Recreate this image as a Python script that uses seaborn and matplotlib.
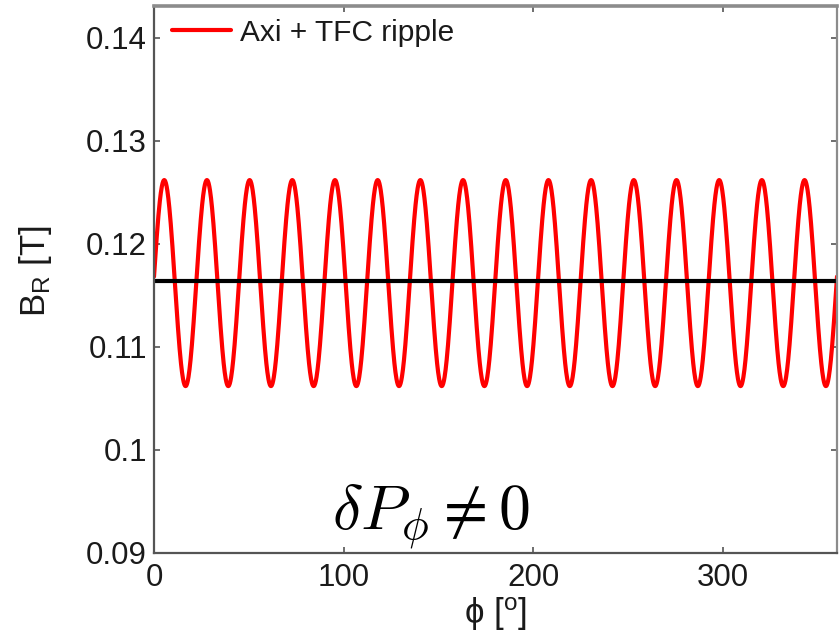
import numpy as np
import pandas as pd
import matplotlib
matplotlib.use("Agg")
import matplotlib.pyplot as plt
import seaborn as sns

# ---- values ----
phi_range = [0, 360]            # toroidal angle range [deg]
n_coils = 16                    # number of ripple periods (TF coils)
phi_first_peak = 5.4            # position of first ripple maximum [deg]
B_peak = 0.1262                 # ripple maxima [T]
B_trough = 0.1062               # ripple minima [T]
B_axi = [0.1164, 0.1164]        # axisymmetric field [T]
yticks = [0.09, 0.1, 0.11, 0.12, 0.13, 0.14]
ytick_labels = ["0.09", "0.1", "0.11", "0.12", "0.13", "0.14"]
xticks = [0, 100, 200, 300]
xtick_labels = ["0", "100", "200", "300"]

# ---- build the curves ----
phi = np.linspace(phi_range[0], phi_range[1], 2001)
B_mid = 0.5 * (B_peak + B_trough)
B_amp = 0.5 * (B_peak - B_trough)
B_ripple = B_mid + B_amp * np.cos(2 * np.pi * n_coils * (phi - phi_first_peak) / 360.0)
df_rip = pd.DataFrame({"phi": phi, "B": B_ripple})
df_axi = pd.DataFrame({"phi": phi_range, "B": B_axi})

sns.set_theme(style="white")
plt.rcParams["font.family"] = ["Liberation Sans", "DejaVu Sans"]
plt.rcParams["mathtext.fontset"] = "custom"
plt.rcParams["mathtext.rm"] = "Liberation Sans"
plt.rcParams["mathtext.it"] = "Liberation Sans:italic"

fig = plt.figure(figsize=(8.39, 6.44), dpi=100)
ax = fig.add_axes([154 / 839, 1 - 553 / 644, (837 - 154) / 839, (553 - 6) / 644])

sns.lineplot(data=df_rip, x="phi", y="B", ax=ax, color="#ff0000", lw=3,
             label="Axi + TFC ripple", estimator=None, sort=False)
sns.lineplot(data=df_axi, x="phi", y="B", ax=ax, color="black", lw=3,
             estimator=None, sort=False, legend=False)

ax.set_xlim(0, 360)
ax.set_ylim(0.09, 0.1431)
ax.set_xticks(xticks)
ax.set_xticklabels(xtick_labels)
ax.set_yticks(yticks)
ax.set_yticklabels(ytick_labels)

fs = 22.5
ax.tick_params(axis="both", direction="in", length=4, width=1.2, colors="#555555",
               labelcolor="#1a1a1a", labelsize=fs, top=True, right=True,
               bottom=True, left=True)
ax.tick_params(axis="y", pad=5)
ax.tick_params(axis="x", pad=7)

for side in ["left", "bottom"]:
    ax.spines[side].set_color("#555555")
    ax.spines[side].set_linewidth(1.6)
ax.spines["top"].set_color("#8c8c8c")
ax.spines["top"].set_linewidth(2.6)
ax.spines["right"].set_color("#8c8c8c")
ax.spines["right"].set_linewidth(1.6)

lfs = 25
ax.set_ylabel(r"B$_{\mathrm{R}}$ [T]", fontsize=lfs, color="#1a1a1a")
ax.yaxis.set_label_coords(-0.147, 0.515)
ax.set_xlabel(r"ϕ [$^{\mathrm{o}}$]", fontsize=lfs, color="#1a1a1a", labelpad=2)

leg = ax.legend(loc="upper left", bbox_to_anchor=(0.026, 0.977), frameon=False,
                fontsize=21.5, handlelength=2.0, handletextpad=0.3,
                borderaxespad=0, borderpad=0)
for t in leg.get_texts():
    t.set_color("#1a1a1a")

ax.text(94.0, 0.0923, r"$\delta P_\phi \neq 0$", fontsize=46, math_fontfamily="cm",
        ha="left", va="baseline", color="black")

fig.savefig("out.png", dpi=100)
